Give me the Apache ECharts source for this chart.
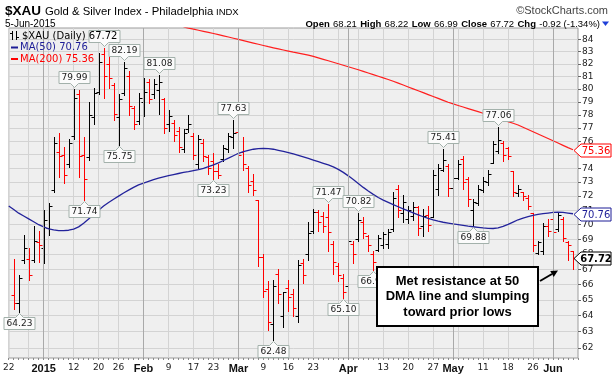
<!DOCTYPE html>
<html lang="en">
<head>
	<meta charset="UTF-8">
	<title>$XAU Gold &amp; Silver Index</title>
	<style>
		body, div {
			margin: 0;
			padding: 0;
		}
		#main {
			width: 614px;
			height: 378px;
			background: #fff;
		}
	</style>
</head>
<body>
	<div id="main"></div>

	<script src="https://cdn.jsdelivr.net/npm/echarts@6.0.0/dist/echarts.min.js"></script>

	<script>
    // trading days (last entry is an empty slot at the right edge)
    var days = [
        '12/22','12/23','12/24','12/26','12/29','12/30','12/31',
        '1/2','1/5','1/6','1/7','1/8','1/9','1/12','1/13','1/14','1/15','1/16','1/20','1/21','1/22','1/23','1/26','1/27','1/28','1/29','1/30',
        '2/2','2/3','2/4','2/5','2/6','2/9','2/10','2/11','2/12','2/13','2/17','2/18','2/19','2/20','2/23','2/24','2/25','2/26','2/27',
        '3/2','3/3','3/4','3/5','3/6','3/9','3/10','3/11','3/12','3/13','3/16','3/17','3/18','3/19','3/20','3/23','3/24','3/25','3/26','3/27','3/30','3/31',
        '4/1','4/2','4/6','4/7','4/8','4/9','4/10','4/13','4/14','4/15','4/16','4/17','4/20','4/21','4/22','4/23','4/24','4/27','4/28','4/29','4/30',
        '5/1','5/4','5/5','5/6','5/7','5/8','5/11','5/12','5/13','5/14','5/15','5/18','5/19','5/20','5/21','5/22','5/26','5/27','5/28','5/29',
        '6/1','6/2','6/3','6/4','6/5',
        ''
    ];

    // x tick labels
    var tickLabels = {
        '12/22': '22', '1/2': '2015', '1/12': '12', '1/20': '20', '1/26': '26',
        '2/2': 'Feb', '2/9': '9', '2/17': '17', '2/23': '23',
        '3/2': 'Mar', '3/9': '9', '3/16': '16', '3/23': '23',
        '4/1': 'Apr', '4/13': '13', '4/20': '20', '4/27': '27',
        '5/1': 'May', '5/11': '11', '5/18': '18', '5/26': '26',
        '6/1': 'Jun'
    };
    var weekDays = ['12/22','12/29','1/5','1/12','1/20','1/26','2/2','2/9','2/17','2/23','3/2','3/9','3/16','3/23','3/30',
        '4/6','4/13','4/20','4/27','5/4','5/11','5/18','5/26','6/1'];
    var monthDays = ['1/2','2/2','3/2','4/1','5/1','6/1'];

    // y ticks and visible range (log scale)
    var yTicks = [62,63,64,65,66,67,68,69,70,71,72,73,74,75,76,77,78,79,80,81,82,83,84];
    var yRange = [61.39, 84.96];

    // OHLC, one row of ten per line
    var opens = [
        null, 65.3, 64.8, 67.6, 67.7, 67.6, 68.8, 68.4, 69.8, 72.4,
        75.2, 75.0, 74.3, 76.4, 79.6, 75.0, 74.8, 77.8, 79.8, 82.8,
        82.0, 80.3, 77.8, 79.7, 81.0, 78.5, 77.5, 79.0, 80.6, 79.6,
        79.9, 79.2, 77.3, 77.4, 76.8, 75.4, 76.9, 76.4, 74.3, 75.9,
        74.8, 74.5, 73.8, 74.7, 75.4, 76.3, 76.7, 75.2, 74.0, 73.1,
        71.7, 67.8, 65.7, 63.5, 66.7, 64.0, 65.8, 65.4, 64.0, 67.4,
        68.0, 69.6, 70.9, 70.6, 70.5, 68.7, 67.2, 66.4, 65.9, 68.7,
        69.0, 70.2, 69.2, 68.0, 68.3, 68.6, 68.7, 69.7, 72.5, 70.8,
        70.4, 70.6, 71.2, 69.9, 70.7, 70.5, 72.5, 73.9, 74.2, 72.6,
        73.3, 74.7, 73.2, 71.0, 71.5, 72.4, 73.0, 74.4, 75.3, 75.9,
        75.5, 73.8, 72.2, 72.3, 71.9, 70.8, 68.1, 68.2, 69.9, 70.4,
        69.7, 70.4, 68.8, 68.21
    ];
    var highs = [
        null, 67.7, 66.6, 69.3, 68.4, 69.9, 69.6, 71.0, 71.5, 76.3,
        76.6, 75.6, 76.2, 79.99, 79.9, 76.3, 79.0, 80.1, 82.9, 83.3,
        82.8, 80.5, 79.6, 82.19, 81.4, 78.7, 79.7, 80.9, 80.8, 80.8,
        81.08, 79.3, 78.4, 77.6, 77.1, 76.9, 78.0, 76.6, 76.5, 76.2,
        75.0, 75.1, 74.3, 75.7, 76.6, 77.63, 77.0, 76.3, 74.2, 73.6,
        71.7, 68.0, 66.2, 66.3, 67.0, 65.5, 66.3, 65.7, 67.6, 67.7,
        70.2, 71.1, 71.0, 70.9, 71.47, 68.9, 67.4, 66.7, 69.1, 68.9,
        70.82, 70.5, 69.3, 68.2, 69.3, 69.5, 69.7, 72.3, 72.8, 72.1,
        71.3, 71.6, 71.3, 71.1, 71.3, 73.9, 74.3, 75.41, 74.3, 73.5,
        74.6, 74.9, 73.4, 71.8, 72.8, 73.4, 73.9, 76.0, 77.06, 76.0,
        75.6, 73.8, 72.8, 72.3, 72.1, 70.8, 68.9, 70.1, 70.4, 70.8,
        70.8, 70.5, 68.9, 68.22
    ];
    var lows = [
        null, 64.4, 64.23, 67.4, 66.3, 67.5, 67.5, 67.4, 69.3, 72.3,
        73.4, 72.9, 74.1, 76.2, 73.4, 71.74, 74.6, 77.3, 79.6, 79.3,
        80.1, 77.6, 75.75, 79.5, 78.0, 76.9, 77.3, 77.9, 78.9, 79.3,
        78.1, 76.6, 76.8, 76.0, 75.2, 75.2, 76.7, 74.7, 74.0, 74.5,
        73.6, 73.23, 73.3, 74.5, 75.2, 75.5, 74.6, 73.9, 72.3, 72.1,
        67.2, 65.2, 63.1, 62.48, 64.8, 63.3, 64.3, 64.0, 63.6, 66.1,
        67.6, 69.4, 69.6, 69.5, 68.2, 66.7, 66.2, 65.10, 65.9, 67.4,
        68.9, 69.1, 68.2, 66.95, 68.2, 68.4, 68.4, 69.6, 70.5, 70.2,
        70.1, 70.3, 69.3, 69.2, 69.6, 70.5, 72.1, 73.8, 72.0, 72.5,
        73.2, 72.5, 71.3, 69.88, 71.4, 72.3, 72.8, 74.4, 75.1, 74.5,
        74.7, 72.0, 72.0, 71.7, 71.1, 68.2, 68.0, 68.0, 69.2, 69.1,
        69.6, 68.9, 67.6, 66.99
    ];
    var closes = [
        null, 64.8, 66.4, 68.4, 66.6, 68.9, 68.6, 70.3, 71.3, 75.9,
        74.9, 73.5, 75.9, 79.3, 74.9, 73.2, 78.0, 79.7, 82.2, 81.0,
        80.9, 78.1, 79.2, 81.7, 78.7, 77.3, 79.3, 79.8, 79.2, 80.4,
        80.6, 77.0, 77.9, 76.5, 75.6, 76.6, 77.3, 75.0, 76.2, 74.9,
        74.0, 73.8, 73.5, 75.5, 76.4, 76.6, 75.0, 74.3, 72.8, 72.4,
        67.8, 65.6, 63.6, 65.9, 65.4, 65.5, 65.2, 64.5, 67.3, 66.6,
        69.4, 70.9, 70.2, 69.9, 69.5, 67.5, 66.6, 65.5, 68.9, 68.0,
        70.3, 69.4, 68.6, 67.5, 69.1, 69.35, 69.5, 71.9, 71.0, 71.6,
        71.0, 71.2, 69.8, 70.6, 70.0, 73.5, 74.0, 74.6, 72.6, 73.3,
        74.3, 73.0, 71.8, 71.6, 72.5, 73.1, 73.6, 75.8, 76.1, 75.0,
        74.9, 72.3, 72.5, 72.0, 71.3, 68.6, 68.8, 69.9, 69.6, 69.5,
        70.7, 69.1, 68.64, 67.72
    ];
    // k = up bar (black), r = down bar (red)
    var barColors = (
        '-rkkrkrkkk' + 'rrkkrrkkkr' + 'rrkkrrkkrk' + 'krkrrkkrkr' + 'rrrkkkrrrr' +
        'rrrkrkrrkr' + 'kkrrrrrrkr' + 'krrrkkkkrk' + 'kkrkrkkkrk' + 'krrkkkkkkr' +
        'rrkrrrkkrr' + 'krrr'
    ).split('');

    var ma50 = [
        71.30, 71.05, 70.80, 70.60, 70.40, 70.20, 70.00, 69.85, 69.72, 69.65,
        69.60, 69.60, 69.62, 69.70, 69.85, 70.10, 70.40, 70.70, 71.00, 71.30,
        71.55, 71.78, 72.00, 72.22, 72.42, 72.62, 72.80, 72.93, 73.05, 73.17,
        73.28, 73.38, 73.46, 73.54, 73.62, 73.70, 73.76, 73.83, 73.90, 74.00,
        74.12, 74.25, 74.40, 74.57, 74.74, 74.92, 75.10, 75.22, 75.32, 75.40,
        75.45, 75.46, 75.44, 75.40, 75.32, 75.24, 75.15, 75.05, 74.94, 74.83,
        74.72, 74.60, 74.48, 74.36, 74.24, 74.10, 73.92, 73.70, 73.45, 73.18,
        72.90, 72.62, 72.36, 72.12, 71.90, 71.72, 71.56, 71.40, 71.25, 71.10,
        70.96, 70.82, 70.68, 70.55, 70.43, 70.33, 70.24, 70.17, 70.11, 70.05,
        70.00, 69.95, 69.90, 69.86, 69.82, 69.78, 69.75, 69.74, 69.78, 69.88,
        70.02, 70.18, 70.34, 70.46, 70.56, 70.64, 70.71, 70.77, 70.81, 70.85,
        70.87, 70.86, 70.81, 70.76
    ];
    var ma200 = [
        null, null, null, null, null, null, null, null, null, null,
        null, null, null, null, null, null, null, null, null, null,
        null, null, null, null, null, null, null, null, null, null,
        null, null, null, null, null, 85.05, 84.95, 84.86, 84.77, 84.68,
        84.59, 84.50, 84.41, 84.31, 84.21, 84.11, 84.01, 83.91, 83.81, 83.71,
        83.61, 83.51, 83.41, 83.32, 83.23, 83.14, 83.05, 82.96, 82.88, 82.80,
        82.72, 82.62, 82.50, 82.38, 82.26, 82.14, 82.02, 81.90, 81.78, 81.66,
        81.54, 81.41, 81.28, 81.15, 81.02, 80.89, 80.76, 80.62, 80.47, 80.32,
        80.17, 80.02, 79.87, 79.72, 79.57, 79.42, 79.27, 79.12, 78.97, 78.84,
        78.72, 78.60, 78.48, 78.36, 78.24, 78.12, 78.00, 77.87, 77.74, 77.61,
        77.48, 77.35, 77.22, 77.05, 76.88, 76.71, 76.54, 76.37, 76.20, 76.03,
        75.86, 75.69, 75.52, 75.36
    ];

    // price labels: [day index, value, side, show text]
    var priceLabels = [
        [2, 64.23, 'below', true],
        [13, 79.99, 'above', true],
        [15, 71.74, 'below', true],
        [19, 83.30, 'above', false],
        [22, 75.75, 'below', true],
        [23, 82.19, 'above', true],
        [30, 81.08, 'above', true],
        [41, 73.23, 'below', true],
        [45, 77.63, 'above', true],
        [53, 62.48, 'below', true],
        [64, 71.47, 'above', true],
        [67, 65.10, 'below', true],
        [70, 70.82, 'above', true],
        [73, 66.95, 'below', true],
        [87, 75.41, 'above', true],
        [93, 69.88, 'below', true],
        [98, 77.06, 'above', true]
    ];

    // last values shown as tags on the right axis
    var tagValues = [75.36, 70.76, 67.72];
    var quoteNames = ['Open', 'High', 'Low', 'Close', 'Chg'];
    var quoteValues = ['68.21', '68.22', '66.99', '67.72', '-0.92 (-1.34%)'];

    var myEcharts = echarts.init(document.getElementById('main'));

    var lastIdx = closes.length - 1;
    var ohlcData = [];
    for (var i = 0; i < closes.length; i++) {
        if (closes[i] == null) continue;
        ohlcData.push([i, Math.log(opens[i]), Math.log(highs[i]), Math.log(lows[i]), Math.log(closes[i])]);
    }
    function logOrGap(v) { return v == null ? '-' : Math.log(v); }

    function renderBar(params, api) {
        var idx = api.value(0);
        var hi = api.coord([idx, api.value(2)]);
        var lo = api.coord([idx, api.value(3)]);
        var op = api.coord([idx, api.value(1)]);
        var cl = api.coord([idx, api.value(4)]);
        var x = Math.round(hi[0]) + 0.5;
        var oy = Math.round(op[1]) + 0.5, cy = Math.round(cl[1]) + 0.5;
        var st = { stroke: barColors[idx] === 'r' ? '#ff0000' : '#000000', lineWidth: 1 };
        return {
            type: 'group',
            children: [
                { type: 'line', shape: { x1: x, y1: Math.round(hi[1]), x2: x, y2: Math.round(lo[1]) + 1 }, style: st },
                { type: 'line', shape: { x1: x - 3, y1: oy, x2: x, y2: oy }, style: st },
                { type: 'line', shape: { x1: x, y1: cy, x2: x + 3, y2: cy }, style: st }
            ]
        };
    }

    function renderPriceLabel(params, api) {
        var item = priceLabels[params.dataIndex];
        var pt = api.coord([api.value(0), api.value(1)]);
        var x = Math.round(pt[0]) + 0.5;
        var up = item[2] === 'above';
        var tip = up ? Math.round(pt[1]) - 1.5 : Math.round(pt[1]) + 1.5;
        var base = up ? tip - 4 : tip + 4;
        var far = up ? base - 12 : base + 12;
        var hw = 15.5;
        var pts = [[x, tip], [x + 4, base], [x + hw, base], [x + hw, far], [x - hw, far], [x - hw, base], [x - 4, base]];
        var children = [
            { type: 'polygon', shape: { points: pts }, style: { fill: '#fbfbfb', stroke: '#a3b1ab', lineWidth: 1 } }
        ];
        if (item[3]) {
            children.push({
                type: 'text', x: x, y: (base + far) / 2 + 0.5,
                style: { text: item[1].toFixed(2), fill: '#1a1a1a', font: '9px "DejaVu Sans"', align: 'center', verticalAlign: 'middle' }
            });
        }
        return { type: 'group', children: children };
    }

    var tagStyles = [
        { color: '#ff0000', font: '10px "DejaVu Sans"' },
        { color: '#1c1c96', font: '10px "DejaVu Sans"' },
        { color: '#000000', font: 'bold 10px "DejaVu Sans"' }
    ];
    function renderTag(params, api) {
        var s = tagStyles[params.dataIndex];
        var y = Math.round(api.coord([api.value(0), api.value(1)])[1]) + 0.5;
        var r = params.coordSys.x + params.coordSys.width;
        var pts = [[r - 4, y], [r + 3, y - 6.5], [r + 33, y - 6.5], [r + 33, y + 6.5], [r + 3, y + 6.5]];
        return {
            type: 'group',
            children: [
                { type: 'polygon', shape: { points: pts }, style: { fill: '#ffffff', stroke: s.color, lineWidth: 1 } },
                { type: 'text', x: r + 18, y: y + 0.5, style: { text: tagValues[params.dataIndex].toFixed(2), fill: s.color, font: s.font, align: 'center', verticalAlign: 'middle' } }
            ]
        };
    }

    var quoteRich = '';
    for (var q = 0; q < quoteNames.length; q++) {
        quoteRich += (q ? ' ' : '') + '{b|' + quoteNames[q] + '} {n|' + quoteValues[q] + '}';
    }

    var yTickLogs = yTicks.map(function (v) { return Math.log(v); });

    var options = {
        animation: false,
        backgroundColor: '#ffffff',
        grid: {
            left: 7, right: 36, top: 28, bottom: 20,
            show: true, backgroundColor: '#efefef', borderColor: '#9c9c9c', borderWidth: 1
        },
        xAxis: {
            type: 'category',
            data: days,
            boundaryGap: false,
            axisLine: { show: false },
            axisTick: { show: true, interval: 0, length: 2, lineStyle: { color: '#8a8a8a' } },
            axisLabel: {
                interval: function (i, v) { return tickLabels[v] !== undefined; },
                margin: 5,
                formatter: function (v) {
                    var t = tickLabels[v];
                    return /^[0-9]{1,2}$/.test(t) ? '{n|' + t + '}' : '{b|' + t + '}';
                },
                rich: {
                    n: { fontFamily: 'DejaVu Sans', fontSize: 9, color: '#222' },
                    b: { fontFamily: 'Liberation Sans', fontWeight: 'bold', fontSize: 11, color: '#111' }
                }
            },
            splitLine: {
                show: true,
                interval: function (i, v) { return weekDays.indexOf(v) >= 0 || monthDays.indexOf(v) >= 0; },
                lineStyle: { color: '#d3d3d3', width: 1 }
            }
        },
        yAxis: {
            type: 'value',
            position: 'right',
            min: Math.log(yRange[0]),
            max: Math.log(yRange[1]),
            axisLine: { show: false },
            axisTick: { show: true, length: 3, customValues: yTickLogs, lineStyle: { color: '#666' } },
            axisLabel: {
                customValues: yTickLogs,
                margin: 4,
                color: '#222',
                fontFamily: 'DejaVu Sans',
                fontSize: 9,
                formatter: function (v) { return String(Math.round(Math.exp(v))); }
            },
            splitLine: { show: true, lineStyle: { color: '#d3d3d3', width: 1 } }
        },
        graphic: [
            { type: 'text', x: 5, y: 11, z: 100, style: { text: '$XAU', font: 'bold 13.5px "Liberation Sans"', fill: '#000', verticalAlign: 'middle' } },
            { type: 'text', x: 45, y: 11.5, z: 100, style: { text: 'Gold & Silver Index - Philadelphia', font: '11.3px "Liberation Sans"', fill: '#000', verticalAlign: 'middle' } },
            { type: 'text', x: 216, y: 12, z: 100, style: { text: 'INDX', font: '9.5px "Liberation Sans"', fill: '#000', verticalAlign: 'middle' } },
            { type: 'text', x: 608, y: 11, z: 100, style: { text: '\u00a9StockCharts.com', font: '11px "Liberation Sans"', fill: '#444', align: 'right', verticalAlign: 'middle' } },
            { type: 'text', x: 5, y: 24, z: 100, style: { text: '5-Jun-2015', font: '10px "Liberation Sans"', fill: '#000', verticalAlign: 'middle' } },
            { type: 'text', x: 600, y: 24, z: 100, style: {
                text: quoteRich, align: 'right', verticalAlign: 'middle',
                rich: {
                    b: { font: 'bold 9.5px "Liberation Sans"', fill: '#000' },
                    n: { font: '9.5px "Liberation Sans"', fill: '#000' }
                }
            } },
            { type: 'polygon', z: 100, shape: { points: [[602, 21.5], [609, 21.5], [605.5, 26]] }, style: { fill: '#1f3fd8' } },

            // legend inside the plot
            { type: 'line', z: 100, shape: { x1: 12.5, y1: 31, x2: 12.5, y2: 40 }, style: { stroke: '#000', lineWidth: 1 } },
            { type: 'line', z: 100, shape: { x1: 10, y1: 33.5, x2: 12.5, y2: 33.5 }, style: { stroke: '#000', lineWidth: 1 } },
            { type: 'line', z: 100, shape: { x1: 16.5, y1: 31, x2: 16.5, y2: 40 }, style: { stroke: '#000', lineWidth: 1 } },
            { type: 'line', z: 100, shape: { x1: 16.5, y1: 37.5, x2: 19, y2: 37.5 }, style: { stroke: '#000', lineWidth: 1 } },
            { type: 'text', x: 22, y: 36, z: 100, style: { text: '$XAU (Daily) 67.72', font: '10px "DejaVu Sans"', fill: '#000', verticalAlign: 'middle' } },
            { type: 'line', z: 100, shape: { x1: 11, y1: 47.5, x2: 18, y2: 47.5 }, style: { stroke: '#1c1c96', lineWidth: 2 } },
            { type: 'text', x: 20, y: 47.5, z: 100, style: { text: 'MA(50) 70.76', font: '10px "DejaVu Sans"', fill: '#1c1c96', verticalAlign: 'middle' } },
            { type: 'line', z: 100, shape: { x1: 11, y1: 59, x2: 18, y2: 59 }, style: { stroke: '#ff0000', lineWidth: 2 } },
            { type: 'text', x: 20, y: 59, z: 100, style: { text: 'MA(200) 75.36', font: '10px "DejaVu Sans"', fill: '#ff0000', verticalAlign: 'middle' } },

            // commentary box and arrow
            { type: 'rect', z: 100, shape: { x: 377, y: 267, width: 161, height: 59 }, style: { fill: '#fff', stroke: '#000', lineWidth: 2 } },
            { type: 'text', x: 457.5, y: 281, z: 101, style: { text: 'Met resistance at 50', font: 'bold 13px "Liberation Sans"', fill: '#000', align: 'center', verticalAlign: 'middle' } },
            { type: 'text', x: 457.5, y: 296.5, z: 101, style: { text: 'DMA line and slumping', font: 'bold 13px "Liberation Sans"', fill: '#000', align: 'center', verticalAlign: 'middle' } },
            { type: 'text', x: 457.5, y: 312, z: 101, style: { text: 'toward prior lows', font: 'bold 13px "Liberation Sans"', fill: '#000', align: 'center', verticalAlign: 'middle' } },
            { type: 'line', z: 100, shape: { x1: 540, y1: 281, x2: 552, y2: 274 }, style: { stroke: '#000', lineWidth: 2 } },
            { type: 'polygon', z: 100, shape: { points: [[558, 270.5], [553.7, 277], [550.2, 271]] }, style: { fill: '#000' } }
        ],
        series: [
            {
                name: 'MA(200)',
                type: 'line',
                data: ma200.map(logOrGap),
                showSymbol: false,
                z: 2,
                lineStyle: { color: '#ff1f1f', width: 1.2 },
                markLine: {
                    silent: true,
                    symbol: ['none', 'none'],
                    label: { show: false },
                    lineStyle: { color: '#a9a9a9', type: 'solid', width: 1 },
                    data: monthDays.map(function (d) { return { xAxis: d }; })
                }
            },
            {
                name: 'XAU',
                type: 'custom',
                renderItem: renderBar,
                data: ohlcData,
                encode: { x: 0, y: [1, 2, 3, 4] },
                z: 3
            },
            {
                name: 'MA(50)',
                type: 'line',
                data: ma50.map(logOrGap),
                showSymbol: false,
                z: 4,
                lineStyle: { color: '#23239b', width: 1.3 }
            },
            {
                name: 'labels',
                type: 'custom',
                renderItem: renderPriceLabel,
                data: priceLabels.map(function (p) { return [p[0], Math.log(p[1])]; }),
                encode: { x: 0, y: 1 },
                z: 5
            },
            {
                name: 'tags',
                type: 'custom',
                renderItem: renderTag,
                clip: false,
                data: tagValues.map(function (v) { return [lastIdx, Math.log(v)]; }),
                encode: { x: 0, y: 1 },
                z: 6
            }
        ]
    };

    myEcharts.setOption(options);
	</script>

</body>
</html>
